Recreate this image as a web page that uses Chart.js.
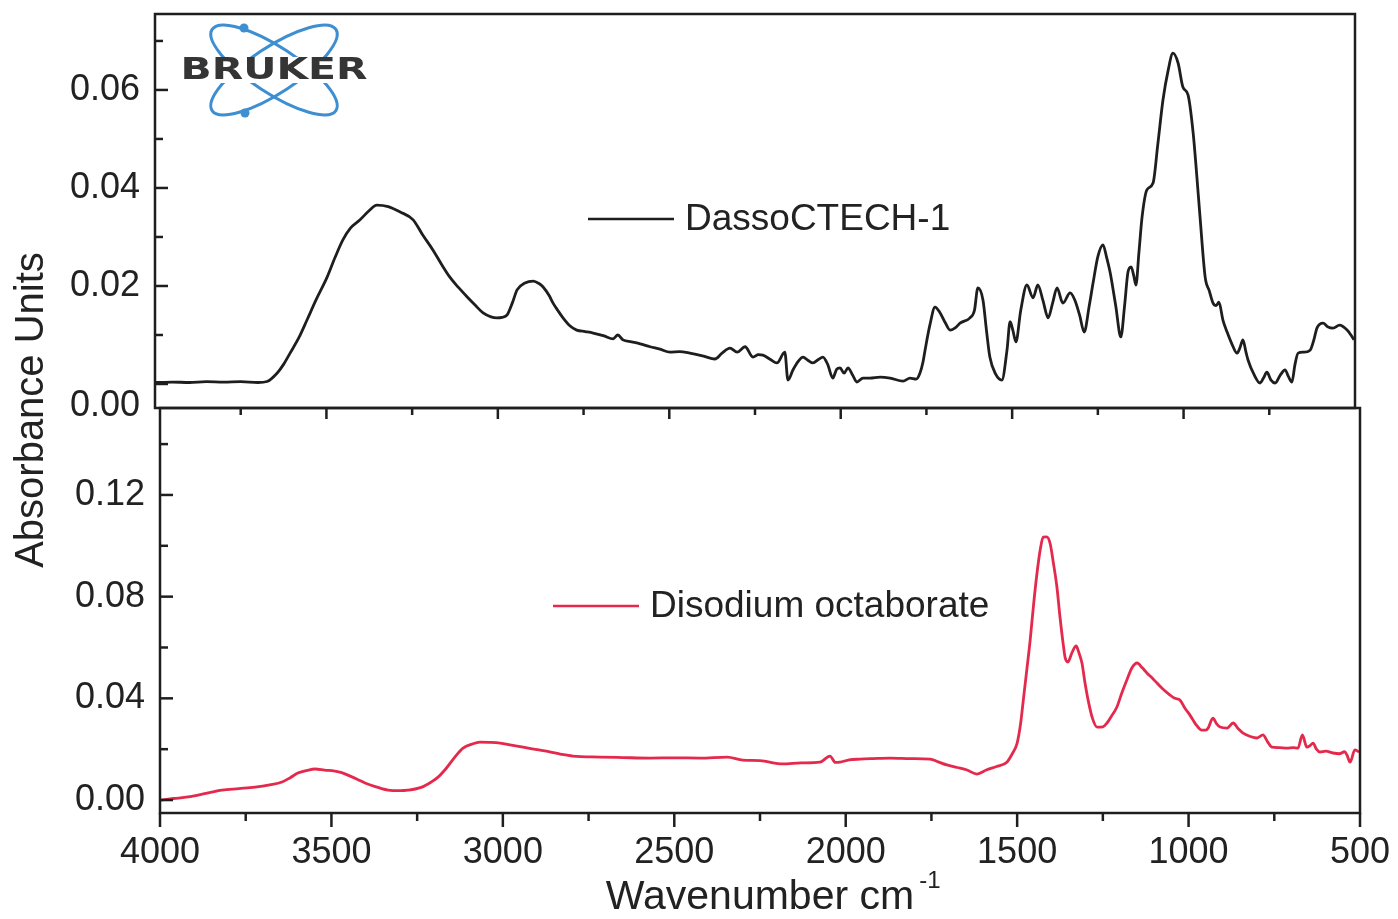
<!DOCTYPE html>
<html>
<head>
<meta charset="utf-8">
<script src="https://cdn.jsdelivr.net/npm/chart.js@4.4.1/dist/chart.umd.min.js"></script>
<style>
    html, body { margin: 0; padding: 0; background: #fff; }
    #wrap { position: relative; width: 1398px; height: 919px; }
    canvas { position: absolute; left: 0; top: 0; }
</style>
</head>
<body>
<div id="wrap">
    <canvas id="bottomChart" width="1398" height="919"></canvas>
    <canvas id="topChart" width="1398" height="919"></canvas>
</div>
<script>
// DassoCTECH-1 spectrum (top panel)
const dassoWavenumber = [
    4000, 3950, 3900, 3850, 3800, 3750, 3700, 3673, 3644, 3625, 3606, 3580, 3557, 3530, 3498, 3475,
    3452, 3430, 3402, 3375, 3353, 3320, 3285, 3247, 3220, 3189, 3165, 3140, 3115, 3090, 3065, 3043,
    3020, 3003, 2988, 2973, 2958, 2944, 2921, 2897, 2880, 2868, 2850, 2839, 2825, 2810, 2790, 2770,
    2745, 2722, 2690, 2664, 2650, 2635, 2610, 2585, 2556, 2527, 2498, 2470, 2440, 2400, 2367, 2346,
    2323, 2302, 2279, 2256, 2240, 2227, 2205, 2186, 2163, 2154, 2139, 2125, 2110, 2095, 2081, 2065,
    2052, 2038, 2023, 2012, 2002, 1990, 1979, 1965, 1953, 1935, 1915, 1885, 1856, 1818, 1798, 1780,
    1769, 1760, 1754, 1740, 1725, 1710, 1695, 1681, 1665, 1652, 1623, 1610, 1600, 1585, 1575, 1565,
    1548, 1530, 1515, 1506, 1498, 1489, 1475, 1457, 1439, 1425, 1410, 1395, 1382, 1369, 1352, 1331,
    1317, 1303, 1290, 1275, 1264, 1250, 1235, 1225, 1214, 1198, 1183, 1172, 1162, 1153, 1145, 1139,
    1130, 1121, 1107, 1089, 1075, 1060, 1045, 1031, 1016, 1002, 987, 972, 962, 952, 937, 925,
    914, 905, 897, 885, 873, 858, 844, 835, 827, 818, 812, 795, 777, 767, 757, 745,
    733, 718, 704, 694, 684, 675, 666, 650, 631, 620, 611, 593, 580, 564, 545, 523,
    510, 503
];
const dassoAbsorbance = [
    0.0003, 0.0004, 0.0003, 0.0005, 0.0004, 0.0005, 0.0003, 0.0005, 0.0022, 0.0040, 0.0063, 0.0095, 0.0130, 0.0172, 0.0218, 0.0258,
    0.0294, 0.0318, 0.0335, 0.0354, 0.0365, 0.0362, 0.0351, 0.0335, 0.0305, 0.0273, 0.0245, 0.0218, 0.0197, 0.0178, 0.0160, 0.0145,
    0.0137, 0.0135, 0.0136, 0.0141, 0.0165, 0.0192, 0.0206, 0.0210, 0.0205, 0.0198, 0.0180, 0.0165, 0.0150, 0.0135, 0.0119, 0.0110,
    0.0107, 0.0104, 0.0098, 0.0092, 0.0100, 0.0090, 0.0086, 0.0082, 0.0076, 0.0071, 0.0065, 0.0066, 0.0063, 0.0057, 0.0051, 0.0063,
    0.0073, 0.0065, 0.0076, 0.0055, 0.0060, 0.0059, 0.0050, 0.0043, 0.0065, 0.0008, 0.0029, 0.0045, 0.0055, 0.0048, 0.0043, 0.0050,
    0.0055, 0.0040, 0.0012, 0.0030, 0.0033, 0.0022, 0.0033, 0.0018, 0.0004, 0.0012, 0.0012, 0.0014, 0.0012, 0.0006, 0.0012, 0.0010,
    0.0022, 0.0045, 0.0069, 0.0120, 0.0157, 0.0145, 0.0125, 0.0110, 0.0115, 0.0124, 0.0135, 0.0150, 0.0196, 0.0171, 0.0110, 0.0055,
    0.0020, 0.0008, 0.0069, 0.0127, 0.0110, 0.0086, 0.0150, 0.0202, 0.0176, 0.0202, 0.0170, 0.0135, 0.0165, 0.0196, 0.0165, 0.0186,
    0.0171, 0.0140, 0.0106, 0.0160, 0.0206, 0.0260, 0.0284, 0.0260, 0.0227, 0.0160, 0.0096, 0.0160, 0.0229, 0.0239, 0.0220, 0.0202,
    0.0270, 0.0341, 0.0396, 0.0410, 0.0490, 0.0580, 0.0640, 0.0675, 0.0655, 0.0606, 0.0590, 0.0512, 0.0430, 0.0341, 0.0218, 0.0190,
    0.0165, 0.0160, 0.0167, 0.0130, 0.0106, 0.0080, 0.0063, 0.0075, 0.0090, 0.0065, 0.0049, 0.0020, 0.0002, 0.0012, 0.0024, 0.0008,
    0.0002, 0.0018, 0.0029, 0.0015, 0.0004, 0.0040, 0.0063, 0.0065, 0.0069, 0.0090, 0.0114, 0.0124, 0.0117, 0.0114, 0.0120, 0.0110,
    0.0098, 0.0090
];

// Disodium octaborate spectrum (bottom panel)
const boraWavenumber = [
    4000, 3960, 3918, 3870, 3819, 3770, 3723, 3680, 3644, 3620, 3598, 3570, 3548, 3520, 3490, 3470,
    3452, 3425, 3402, 3370, 3335, 3300, 3277, 3236, 3210, 3189, 3165, 3140, 3116, 3090, 3067, 3040,
    3008, 2975, 2941, 2900, 2863, 2830, 2796, 2717, 2650, 2571, 2500, 2425, 2346, 2300, 2250, 2183,
    2130, 2075, 2046, 2030, 2017, 1990, 1958, 1920, 1871, 1810, 1754, 1730, 1705, 1675, 1646, 1617,
    1590, 1560, 1530, 1515, 1500, 1490, 1482, 1472, 1462, 1452, 1442, 1432, 1424, 1414, 1404, 1394,
    1384, 1375, 1366, 1360, 1352, 1340, 1328, 1320, 1311, 1302, 1293, 1280, 1267, 1250, 1238, 1225,
    1209, 1195, 1180, 1165, 1150, 1135, 1121, 1106, 1092, 1075, 1054, 1040, 1025, 1010, 996, 980,
    961, 950, 943, 929, 918, 908, 888, 870, 855, 841, 820, 800, 783, 770, 757, 735,
    713, 695, 681, 668, 655, 645, 637, 627, 617, 600, 579, 560, 545, 538, 529, 515,
    503
];
const boraAbsorbance = [
    0.0000, 0.0006, 0.0012, 0.0025, 0.0039, 0.0045, 0.0051, 0.0060, 0.0071, 0.0088, 0.0106, 0.0117, 0.0122, 0.0118, 0.0114, 0.0108,
    0.0098, 0.0082, 0.0067, 0.0052, 0.0039, 0.0037, 0.0039, 0.0051, 0.0070, 0.0090, 0.0125, 0.0169, 0.0204, 0.0220, 0.0228, 0.0227,
    0.0224, 0.0216, 0.0208, 0.0198, 0.0189, 0.0180, 0.0173, 0.0169, 0.0167, 0.0165, 0.0166, 0.0165, 0.0169, 0.0157, 0.0155, 0.0142,
    0.0146, 0.0149, 0.0173, 0.0148, 0.0149, 0.0158, 0.0161, 0.0163, 0.0165, 0.0163, 0.0161, 0.0150, 0.0138, 0.0128, 0.0118, 0.0102,
    0.0118, 0.0132, 0.0149, 0.0180, 0.0224, 0.0300, 0.0393, 0.0510, 0.0629, 0.0770, 0.0893, 0.0990, 0.1034, 0.1035, 0.1010, 0.0930,
    0.0838, 0.0720, 0.0617, 0.0560, 0.0543, 0.0580, 0.0606, 0.0580, 0.0539, 0.0460, 0.0393, 0.0320, 0.0287, 0.0288, 0.0303, 0.0330,
    0.0366, 0.0420, 0.0472, 0.0520, 0.0539, 0.0520, 0.0499, 0.0480, 0.0460, 0.0437, 0.0413, 0.0400, 0.0393, 0.0360, 0.0334, 0.0300,
    0.0275, 0.0275, 0.0283, 0.0322, 0.0300, 0.0287, 0.0283, 0.0303, 0.0280, 0.0263, 0.0250, 0.0244, 0.0256, 0.0230, 0.0208, 0.0206,
    0.0204, 0.0206, 0.0204, 0.0256, 0.0208, 0.0215, 0.0224, 0.0200, 0.0189, 0.0192, 0.0185, 0.0182, 0.0190, 0.0177, 0.0149, 0.0197,
    0.0189
];

// axis ticks
const xLabels = [4000, 3500, 3000, 2500, 2000, 1500, 1000, 500];
const xMinor = [3750, 3250, 2750, 2250, 1750, 1250, 750];
const topYLabels = [0, 0.02, 0.04, 0.06];
const topYMinor = [0.01, 0.03, 0.05, 0.07];
const bottomYLabels = [0, 0.04, 0.08, 0.12];
const bottomYMinor = [0.02, 0.06, 0.10, 0.14];

const FONT = "'Liberation Sans', Arial, sans-serif";
const INK = '#1e1e1e';
const RED = '#e4294c';

function toPoints(xs, ys) {
    return xs.map((x, i) => ({ x: x, y: ys[i] }));
}

function tickLine(ctx, x1, y1, x2, y2) {
    ctx.beginPath();
    ctx.moveTo(x1, y1);
    ctx.lineTo(x2, y2);
    ctx.stroke();
}

// frame, inward y ticks and outward x ticks
const frameTicks = {
    id: 'frameTicks',
    afterDraw(chart, args, opts) {
        const { ctx, chartArea: a } = chart;
        const x = chart.scales.x, y = chart.scales.y;
        ctx.save();
        ctx.strokeStyle = INK;
        ctx.lineWidth = 2.5;
        ctx.strokeRect(a.left, a.top, a.right - a.left, a.bottom - a.top);
        opts.yMajor.forEach(v => { const p = y.getPixelForValue(v); tickLine(ctx, a.left, p, a.left + 13, p); });
        opts.yMinor.forEach(v => { const p = y.getPixelForValue(v); tickLine(ctx, a.left, p, a.left + 8, p); });
        opts.xMajor.forEach(v => { const p = x.getPixelForValue(v); tickLine(ctx, p, a.bottom, p, a.bottom + opts.xMajorLen); });
        opts.xMinor.forEach(v => { const p = x.getPixelForValue(v); tickLine(ctx, p, a.bottom, p, a.bottom + opts.xMinorLen); });
        ctx.restore();
    }
};

// legend line + label inside the panel
const panelLegend = {
    id: 'panelLegend',
    afterDraw(chart, args, opts) {
        const { ctx, chartArea: a } = chart;
        const ds = chart.data.datasets[0];
        const x0 = a.left + opts.dx, y0 = a.top + opts.dy;
        ctx.save();
        ctx.strokeStyle = ds.borderColor;
        ctx.lineWidth = 2.5;
        tickLine(ctx, x0, y0, x0 + 86, y0);
        ctx.fillStyle = '#222';
        ctx.font = '37px ' + FONT;
        ctx.textBaseline = 'middle';
        ctx.fillText(ds.label, x0 + 97, y0 + 1);
        ctx.restore();
    }
};

// Bruker logo in the top panel
const brukerLogo = {
    id: 'brukerLogo',
    afterDraw(chart) {
        const { ctx, chartArea: a } = chart;
        const cx = a.left + 119, cy = a.top + 56;
        ctx.save();
        ctx.strokeStyle = '#3d8fd2';
        ctx.fillStyle = '#3d8fd2';
        ctx.lineWidth = 3;
        [0.58, -0.58].forEach(r => {
            ctx.beginPath();
            ctx.ellipse(cx, cy, 74, 23, r, 0, Math.PI * 2);
            ctx.stroke();
        });
        ctx.beginPath(); ctx.arc(cx - 30, cy - 42, 4.5, 0, Math.PI * 2); ctx.fill();
        ctx.beginPath(); ctx.arc(cx - 29, cy + 43, 4.5, 0, Math.PI * 2); ctx.fill();
        ctx.fillStyle = '#fff';
        ctx.fillRect(cx - 90, cy - 13, 180, 26);
        ctx.translate(cx, cy);
        ctx.scale(1.32, 1);
        ctx.fillStyle = '#353535';
        ctx.font = "bold 31px 'DejaVu Sans', sans-serif";
        ctx.textAlign = 'center';
        ctx.textBaseline = 'middle';
        ctx.fillText('BRUKER', 0, 1);
        ctx.restore();
    }
};

// shared y title and the superscript of the x title
const extraTitles = {
    id: 'extraTitles',
    afterDraw(chart) {
        const { ctx, chartArea: a } = chart;
        ctx.save();
        ctx.fillStyle = '#222';
        ctx.font = '40px ' + FONT;
        ctx.textAlign = 'center';
        ctx.textBaseline = 'middle';
        ctx.translate(32, 410);
        ctx.rotate(-Math.PI / 2);
        ctx.fillText('Absorbance Units', 0, 0);
        ctx.restore();

        ctx.save();
        ctx.font = '41px ' + FONT;
        const w = ctx.measureText('Wavenumber cm').width;
        ctx.fillStyle = '#222';
        ctx.font = '24px ' + FONT;
        ctx.textBaseline = 'middle';
        ctx.fillText('-1', (a.left + a.right) / 2 + w / 2 + 5, 881);
        ctx.restore();
    }
};

function yAxis(min, max, labels, width) {
    return {
        min: min,
        max: max,
        afterBuildTicks: s => { s.ticks = labels.map(v => ({ value: v })); },
        afterFit: s => { s.width = width; s.paddingTop = 0; s.paddingBottom = 0; },
        grid: { display: false, drawTicks: false },
        border: { display: false },
        ticks: {
            padding: 15,
            color: '#222',
            font: { family: FONT, size: 36 },
            callback: v => (v === 0 && labels === topYLabels) ? ['', '0.00'] : v.toFixed(2)
        }
    };
}

Chart.defaults.font.family = FONT;

const lineStyle = { borderWidth: 2.8, pointRadius: 0, cubicInterpolationMode: 'monotone' };

new Chart(document.getElementById('topChart'), {
    type: 'line',
    data: {
        datasets: [Object.assign({
            label: 'DassoCTECH-1',
            data: toPoints(dassoWavenumber, dassoAbsorbance),
            borderColor: INK
        }, lineStyle)]
    },
    options: {
        responsive: false,
        animation: false,
        layout: { padding: { top: 14, right: 43, bottom: 511, left: 0 } },
        plugins: {
            legend: { display: false },
            tooltip: { enabled: false },
            frameTicks: { yMajor: topYLabels, yMinor: topYMinor, xMajor: xLabels.slice(1, -1), xMinor: xMinor, xMajorLen: 11, xMinorLen: 7 },
            panelLegend: { dx: 433, dy: 205 }
        },
        scales: {
            x: {
                type: 'linear', min: 500, max: 4000, reverse: true,
                ticks: { display: false },
                grid: { display: false, drawTicks: false },
                border: { display: false },
                afterFit: s => { s.height = 0; s.paddingLeft = 0; s.paddingRight = 0; }
            },
            y: yAxis(-0.0049, 0.0755, topYLabels, 155)
        }
    },
    plugins: [frameTicks, panelLegend, brukerLogo]
});

new Chart(document.getElementById('bottomChart'), {
    type: 'line',
    data: {
        datasets: [Object.assign({
            label: 'Disodium octaborate',
            data: toPoints(boraWavenumber, boraAbsorbance),
            borderColor: RED
        }, lineStyle)]
    },
    options: {
        responsive: false,
        animation: false,
        layout: { padding: { top: 408, right: 38, bottom: 0, left: 0 } },
        plugins: {
            legend: { display: false },
            tooltip: { enabled: false },
            frameTicks: { yMajor: bottomYLabels, yMinor: bottomYMinor, xMajor: xLabels, xMinor: xMinor, xMajorLen: 14, xMinorLen: 8 },
            panelLegend: { dx: 393, dy: 198 }
        },
        scales: {
            x: {
                type: 'linear', min: 500, max: 4000, reverse: true,
                afterBuildTicks: s => { s.ticks = xLabels.map(v => ({ value: v })); },
                afterFit: s => { s.height = 106; s.paddingLeft = 0; s.paddingRight = 0; },
                grid: { display: false, drawTicks: false },
                border: { display: false },
                ticks: {
                    padding: 18,
                    maxRotation: 0,
                    autoSkip: false,
                    color: '#222',
                    font: { family: FONT, size: 36 },
                    callback: v => String(v)
                },
                title: {
                    display: true,
                    text: 'Wavenumber cm',
                    color: '#222',
                    font: { family: FONT, size: 41, lineHeight: 1 },
                    padding: { top: 0, bottom: 1 }
                }
            },
            y: yAxis(-0.0051, 0.1542, bottomYLabels, 160)
        }
    },
    plugins: [frameTicks, panelLegend, extraTitles]
});
</script>
</body>
</html>
